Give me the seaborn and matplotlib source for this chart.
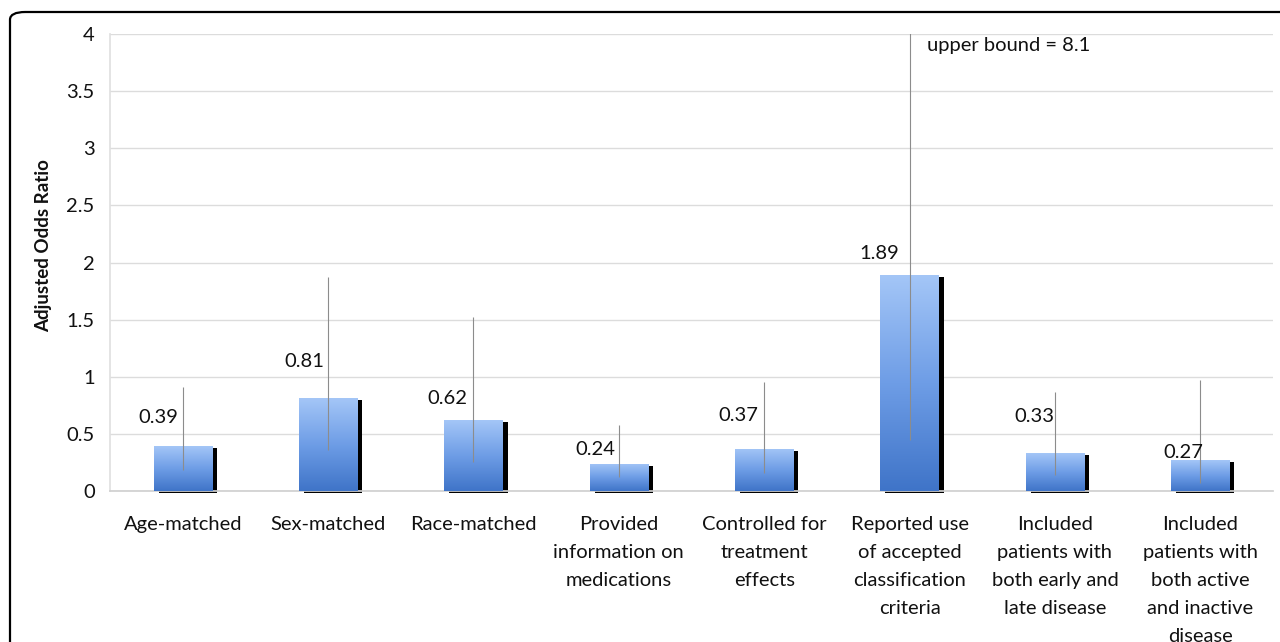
import numpy as np
import pandas as pd
import matplotlib
matplotlib.use("Agg")
import matplotlib.pyplot as plt
import matplotlib.transforms as mtransforms
from matplotlib.patches import Rectangle, FancyBboxPatch
from matplotlib.colors import LinearSegmentedColormap
import seaborn as sns

categories = [
    "Age-matched",
    "Sex-matched",
    "Race-matched",
    "Provided\ninformation on\nmedications",
    "Controlled for\ntreatment\neffects",
    "Reported use\nof accepted\nclassification\ncriteria",
    "Included\npatients with\nboth early and\nlate disease",
    "Included\npatients with\nboth active\nand inactive\ndisease",
]
odds_ratio = [0.39, 0.81, 0.62, 0.24, 0.37, 1.89, 0.33, 0.27]
ci_lower = [0.18, 0.36, 0.25, 0.12, 0.16, 0.45, 0.14, 0.07]
ci_upper = [0.91, 1.87, 1.52, 0.58, 0.95, 8.1, 0.87, 0.97]
value_labels = ["0.39", "0.81", "0.62", "0.24", "0.37", "1.89", "0.33", "0.27"]

# layout for labels (data units)
label_dx = [-0.17, -0.16, -0.18, -0.16, -0.18, -0.21, -0.14, -0.12]
label_y = [0.64, 1.13, 0.81, 0.36, 0.665, 2.08, 0.65, 0.34]

sns.set_theme(style="white")
plt.rcParams["font.family"] = ["Lato", "DejaVu Sans"]

FS = 14.5

fig = plt.figure(figsize=(12.8, 6.42), dpi=100)
ax = fig.add_axes([110 / 1280, 1 - 491 / 642, (1273 - 110) / 1280, (491 - 34) / 642])

df = pd.DataFrame({"cat": categories, "val": odds_ratio})
sns.barplot(data=df, x="cat", y="val", width=0.4, color="#6f9fe6", ax=ax,
            errorbar=None, zorder=3)

ax.set_ylim(0, 4)
ax.set_xlim(-0.5, len(categories) - 0.5)
ax.set_yticks(np.arange(0, 4.01, 0.5))
ax.set_yticklabels(["0", "0.5", "1", "1.5", "2", "2.5", "3", "3.5", "4"], fontsize=FS)
ax.yaxis.grid(True, color="#dcdcdc", lw=1)
ax.set_axisbelow(True)

for s in ["top", "right"]:
    ax.spines[s].set_visible(False)
ax.spines["left"].set_color("#e0e0e0")
ax.spines["bottom"].set_color("#d0d0d0")
ax.tick_params(axis="y", length=0, pad=11, colors="#111111")
ax.tick_params(axis="x", which="major", length=0, pad=18, labelsize=FS, colors="#111111")
ax.set_xticks(np.arange(len(categories)) + 0.5, minor=True)
ax.tick_params(axis="x", which="minor", length=5, color="#d0d0d0", width=1)
for t in ax.get_xticklabels():
    t.set_linespacing(1.78)
    t.set_verticalalignment("top")

ax.set_xlabel("")
ax.set_ylabel("Adjusted Odds Ratio", fontsize=13.5, fontweight="bold", color="#111111")
ax.yaxis.set_label_coords(-0.050, 0.536)

cmap = LinearSegmentedColormap.from_list("barg", ["#3f74c8", "#6e9de6", "#a4c6f7"])
grad = np.linspace(0, 1, 256).reshape(-1, 1)
shadow_tr = mtransforms.offset_copy(ax.transData, fig=fig, x=5, y=-2, units="dots")

for p in ax.patches:
    x0, w, h = p.get_x(), p.get_width(), p.get_height()
    sh = Rectangle((x0, 0), w, h, transform=shadow_tr, facecolor="black",
                   edgecolor="none", zorder=2, clip_on=False)
    ax.add_patch(sh)
    im = ax.imshow(grad, cmap=cmap, aspect="auto", origin="lower",
                   extent=[x0, x0 + w, 0, h], zorder=3.5)
    im.set_clip_path(p)
    p.set_facecolor("none")
    p.set_edgecolor("none")

ax.set_xlim(-0.5, len(categories) - 0.5)
ax.set_ylim(0, 4)

xs = np.arange(len(categories))
ax.vlines(xs, ci_lower, ci_upper, color="#8c8c8c", lw=0.8, zorder=4)

for i, lab in enumerate(value_labels):
    ax.text(xs[i] + label_dx[i], label_y[i], lab, ha="center", va="center",
            fontsize=FS, color="#111111", zorder=5)

ax.text(5.12, 3.9, "upper bound = 8.1", ha="left", va="center",
        fontsize=FS, color="#111111")

border = FancyBboxPatch((10 / 1280, -0.2), 1.2, (630 / 642) + 0.2,
                        boxstyle="round,pad=0,rounding_size=0.012",
                        transform=fig.transFigure, facecolor="none",
                        edgecolor="black", lw=1.6, clip_on=False)
fig.patches.append(border)

fig.savefig("out.png", dpi=100)
